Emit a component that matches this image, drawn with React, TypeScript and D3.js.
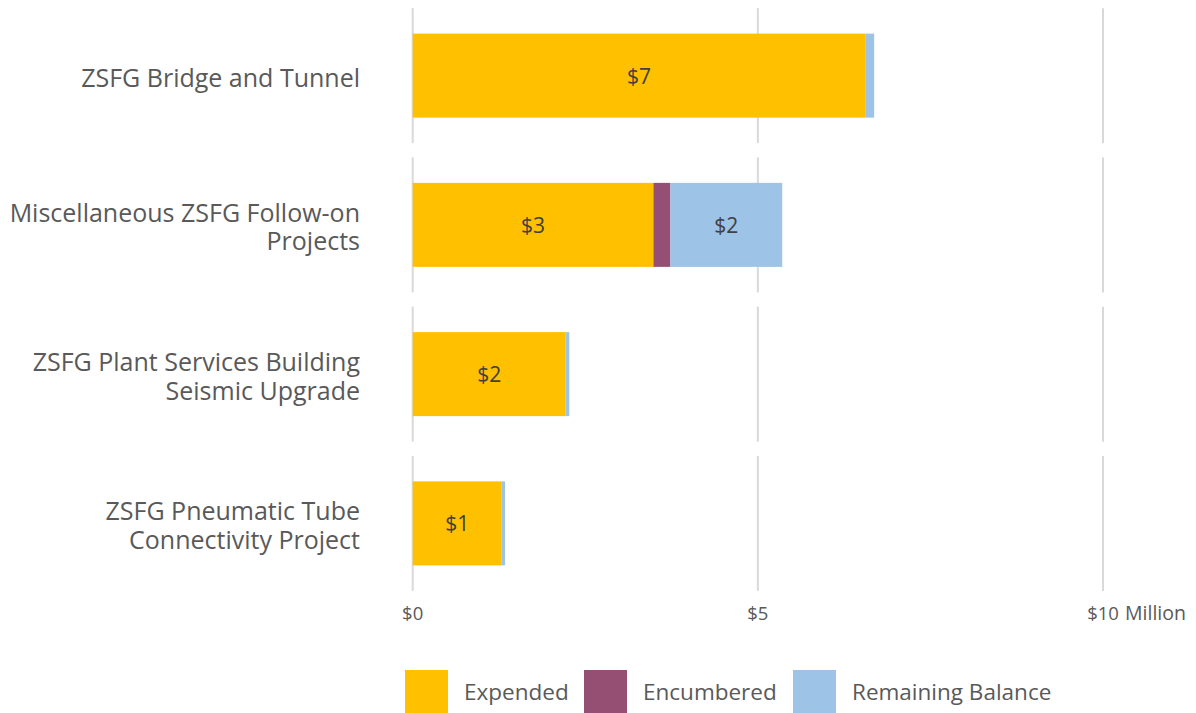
import React from "react";
import * as d3 from "d3";

const categories: string[][] = [
  ["ZSFG Bridge and Tunnel"],
  ["Miscellaneous ZSFG Follow-on", "Projects"],
  ["ZSFG Plant Services Building", "Seismic Upgrade"],
  ["ZSFG Pneumatic Tube", "Connectivity Project"],
];
const expended = [6.555, 3.487, 2.217, 1.29];
const encumbered = [0, 0.246, 0, 0];
const remaining = [0.13, 1.62, 0.052, 0.048];
const seriesNames = ["Expended", "Encumbered", "Remaining Balance"];
const seriesColors = ["#FFC000", "#954F72", "#9DC3E6"];
const xTicks = [0, 5, 10];
const tickLabels = ["$0", "$5", "$10"];
const unitLabel = "Million";

const W = 1196;
const H = 713;
const FONT = "'Segoe UI', 'Open Sans', sans-serif";

export default function App() {
  const x = d3.scaleLinear().domain([0, 10]).range([412.7, 1103]);
  const keys = categories.map((_, i) => String(i));
  const y = d3.scaleBand().domain(keys).range([1, 598]).padding(0);
  const step = y.bandwidth();
  const barH = 84;
  const gridHalf = 67.5;

  const rows = categories.map((c, i) => ({
    key: String(i),
    Expended: expended[i],
    Encumbered: encumbered[i],
    "Remaining Balance": remaining[i],
  }));
  const stack = d3.stack<any>().keys(seriesNames)(rows);

  const textColor = "#595959";

  const legendX = [405, 584, 793];

  return (
    <svg
      width={W}
      height={H}
      style={{ position: "absolute", left: 0, top: 0, background: "#fff" }}
      fontFamily={FONT}
    >
      {keys.map((k) => {
        const cy = (y(k) as number) + step / 2;
        return xTicks.map((t) => (
          <line
            key={k + "-" + t}
            x1={x(t)}
            x2={x(t)}
            y1={cy - gridHalf}
            y2={cy + gridHalf}
            stroke="#D9D9D9"
            strokeWidth={2}
          />
        ));
      })}

      {stack.map((s, si) =>
        s.map((d, i) => {
          const cy = (y(keys[i]) as number) + step / 2;
          const w = x(d[1]) - x(d[0]);
          if (w <= 0) return null;
          return (
            <rect
              key={si + "-" + i}
              x={x(d[0])}
              y={cy - barH / 2}
              width={w}
              height={barH}
              fill={seriesColors[si]}
            />
          );
        })
      )}

      {stack.map((s, si) =>
        s.map((d, i) => {
          const v = d[1] - d[0];
          if (v < 1) return null;
          const cy = (y(keys[i]) as number) + step / 2;
          return (
            <text
              key={"l" + si + "-" + i}
              x={(x(d[0]) + x(d[1])) / 2}
              y={cy}
              dy="0.38em"
              textAnchor="middle"
              fontSize={21}
              fill="#404040"
            >
              {"$" + d3.format(".0f")(v)}
            </text>
          );
        })
      )}

      {categories.map((lines, i) => {
        const cy = (y(keys[i]) as number) + step / 2;
        const lh = 28.5;
        const start = cy - ((lines.length - 1) * lh) / 2;
        return (
          <text key={"c" + i} textAnchor="end" fontSize={25} fill={textColor}>
            {lines.map((ln, j) => (
              <tspan key={j} x={360} y={start + j * lh} dy="0.45em">
                {ln}
              </tspan>
            ))}
          </text>
        );
      })}

      {xTicks.map((t, i) => (
        <text
          key={"t" + t}
          x={x(t)}
          y={620}
          textAnchor="middle"
          fontSize={18.5}
          fill={textColor}
        >
          {tickLabels[i]}
        </text>
      ))}
      <text x={1125} y={620} fontSize={19.5} fill={textColor}>
        {unitLabel}
      </text>

      {seriesNames.map((n, i) => (
        <g key={"lg" + i}>
          <rect x={legendX[i]} y={670} width={43} height={43} fill={seriesColors[i]} />
          <text x={legendX[i] + 59} y={700} fontSize={22.5} fill={textColor}>
            {n}
          </text>
        </g>
      ))}
    </svg>
  );
}
